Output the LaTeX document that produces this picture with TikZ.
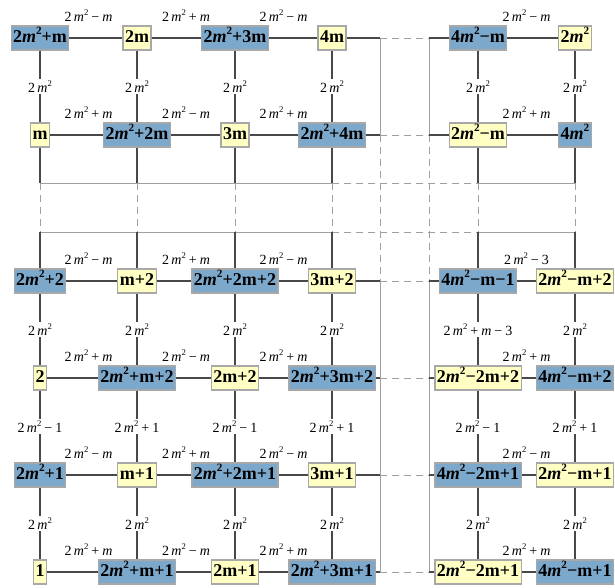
\documentclass[tikz,border=0pt]{standalone}
\usepackage{fontspec}
\usepackage{graphicx}
\setmainfont{Liberation Serif}
\usetikzlibrary{calc}
% italic m and a raised small 2
\newcommand\Mi{\textit{m}}
\newcommand\Sq{\raisebox{0.42em}{\scalebox{0.62}{2}}}
% weight label: 2 m^2 <op> <term>
\newcommand\Lb[2]{2\,\Mi\Sq\kern3pt#1\kern3pt#2}
\newcommand\Lsq{2\,\Mi\Sq}
\definecolor{nodeblue}{RGB}{124,168,204}
\definecolor{nodeyellow}{RGB}{255,255,196}
\definecolor{boxgray}{RGB}{168,168,168}
\definecolor{linkgray}{RGB}{72,72,72}
\definecolor{framegray}{RGB}{160,160,160}
\tikzset{
  cell/.style={draw=boxgray, line width=1.1pt, font=\fontsize{18}{18}\selectfont\bfseries,
    inner xsep=2pt, inner ysep=3pt, text height=13pt, text depth=4pt, minimum height=24pt},
  bcell/.style={cell, fill=nodeblue},
  ycell/.style={cell, fill=nodeyellow},
  link/.style={draw=linkgray, line width=1.1pt},
  frameline/.style={draw=framegray, line width=0.9pt},
  gapline/.style={draw=framegray, line width=0.9pt, dash pattern=on 7pt off 5pt},
  lab/.style={font=\fontsize{14}{14}\selectfont, inner sep=1pt},
  vlab/.style={lab, fill=white, inner sep=2pt}
}
\begin{document}
\begin{tikzpicture}[x=1pt,y=-1pt]
\useasboundingbox (0,0) rectangle (615,588);

% ---- cells ----
\node[bcell] (a1) at (40,38)  {2\Mi\Sq+m};
\node[ycell] (a2) at (137,38) {2m};
\node[bcell] (a3) at (235,38) {2\Mi\Sq+3m};
\node[ycell] (a4) at (332,38) {4m};
\node[bcell] (a5) at (478,38) {4\Mi\Sq−m};
\node[ycell] (a6) at (575,38) {2\Mi\Sq};

\node[ycell] (b1) at (40,135)  {m};
\node[bcell] (b2) at (137,135) {2\Mi\Sq+2m};
\node[ycell] (b3) at (235,135) {3m};
\node[bcell] (b4) at (332,135) {2\Mi\Sq+4m};
\node[ycell] (b5) at (478,135) {2\Mi\Sq−m};
\node[bcell] (b6) at (575,135) {4\Mi\Sq};

\node[bcell] (c1) at (40,281)  {2\Mi\Sq+2};
\node[ycell] (c2) at (137,281) {m+2};
\node[bcell] (c3) at (235,281) {2\Mi\Sq+2m+2};
\node[ycell] (c4) at (332,281) {3m+2};
\node[bcell] (c5) at (478,281) {4\Mi\Sq−m−1};
\node[ycell] (c6) at (575,281) {2\Mi\Sq−m+2};

\node[ycell] (d1) at (40,378)  {2};
\node[bcell] (d2) at (137,378) {2\Mi\Sq+m+2};
\node[ycell] (d3) at (235,378) {2m+2};
\node[bcell] (d4) at (332,378) {2\Mi\Sq+3m+2};
\node[ycell] (d5) at (478,378) {2\Mi\Sq−2m+2};
\node[bcell] (d6) at (575,378) {4\Mi\Sq−m+2};

\node[bcell] (e1) at (40,475)  {2\Mi\Sq+1};
\node[ycell] (e2) at (137,475) {m+1};
\node[bcell] (e3) at (235,475) {2\Mi\Sq+2m+1};
\node[ycell] (e4) at (332,475) {3m+1};
\node[bcell] (e5) at (478,475) {4\Mi\Sq−2m+1};
\node[ycell] (e6) at (575,475) {2\Mi\Sq−m+1};

\node[ycell] (f1) at (40,572)  {1};
\node[bcell] (f2) at (137,572) {2\Mi\Sq+m+1};
\node[ycell] (f3) at (235,572) {2m+1};
\node[bcell] (f4) at (332,572) {2\Mi\Sq+3m+1};
\node[ycell] (f5) at (478,572) {2\Mi\Sq−2m+1};
\node[bcell] (f6) at (575,572) {4\Mi\Sq−m+1};

% ---- gap frame coordinates ----
\foreach \r/\y in {a/38,b/135,c/281,d/378,e/475,f/572}{
  \coordinate (p\r) at (380,\y);
  \coordinate (q\r) at (429,\y);
}
\foreach \i/\x in {1/40,2/137,3/235,4/332,5/478,6/575}{
  \coordinate (r\i) at (\x,183);
  \coordinate (s\i) at (\x,232);
}

% vertical gap lines
\foreach \c in {p,q}{
  \draw[frameline] (\c a) -- (\c b);
  \draw[gapline]   (\c b) -- (\c c);
  \draw[frameline] (\c c) -- (\c f);
}
% horizontal gap lines
\foreach \c in {r,s}{
  \draw[frameline] (\c1) -- (\c4);
  \draw[gapline]   (\c4) -- (\c5);
  \draw[frameline] (\c5) -- (\c6);
}
% column links across the gap
\foreach \i in {1,...,6}{
  \draw[link] (b\i) -- (r\i);
  \draw[gapline] (r\i) -- (s\i);
  \draw[link] (s\i) -- (c\i);
}
% row links
\foreach \r in {a,...,f}{
  \draw[link] (\r1) -- (\r2);
  \draw[link] (\r2) -- (\r3);
  \draw[link] (\r3) -- (\r4);
  \draw[link] (\r4) -- (p\r);
  \draw[gapline] (p\r) -- (q\r);
  \draw[link] (q\r) -- (\r5);
  \draw[link] (\r5) -- (\r6);
}
% column links
\foreach \r/\s in {a/b,c/d,d/e,e/f}{
  \foreach \i in {1,...,6}{
    \draw[link] (\r\i) -- (\s\i);
  }
}

% ---- horizontal weights ----
\foreach \r/\la/\lb/\lc/\ld in {
  a/{\Lb{−}{\Mi}}/{\Lb{+}{\Mi}}/{\Lb{−}{\Mi}}/{\Lb{−}{\Mi}},
  b/{\Lb{+}{\Mi}}/{\Lb{−}{\Mi}}/{\Lb{+}{\Mi}}/{\Lb{+}{\Mi}},
  c/{\Lb{−}{\Mi}}/{\Lb{+}{\Mi}}/{\Lb{−}{\Mi}}/{\Lb{−}{3}},
  d/{\Lb{+}{\Mi}}/{\Lb{−}{\Mi}}/{\Lb{+}{\Mi}}/{\Lb{+}{\Mi}},
  e/{\Lb{−}{\Mi}}/{\Lb{+}{\Mi}}/{\Lb{−}{\Mi}}/{\Lb{−}{\Mi}},
  f/{\Lb{+}{\Mi}}/{\Lb{−}{\Mi}}/{\Lb{+}{\Mi}}/{\Lb{+}{\Mi}}}{
  \node[lab] (h\r1) at ($(\r1.center)!0.5!(\r2.center)+(0,-22)$) {\la};
  \node[lab] (h\r2) at ($(\r2.center)!0.5!(\r3.center)+(0,-22)$) {\lb};
  \node[lab] (h\r3) at ($(\r3.center)!0.5!(\r4.center)+(0,-22)$) {\lc};
  \node[lab] (h\r5) at ($(\r5.center)!0.5!(\r6.center)+(0,-22)$) {\ld};
}

% ---- vertical weights ----
\foreach \i in {1,...,6}{
  \node[vlab] (vab\i) at ($(a\i.center)!0.5!(b\i.center)$) {\Lsq};
  \node[vlab] (vef\i) at ($(e\i.center)!0.5!(f\i.center)$) {\Lsq};
}
\foreach \i in {1,2,3,4,6}{
  \node[vlab] (vcd\i) at ($(c\i.center)!0.5!(d\i.center)$) {\Lsq};
}
\node[vlab] (vcd5) at ($(c5.center)!0.5!(d5.center)$) {\Lb{+}{\Mi}\kern3pt−\kern3pt3};
\foreach \i/\o in {1/−,2/+,3/−,4/+,5/−,6/+}{
  \node[vlab] (vde\i) at ($(d\i.center)!0.5!(e\i.center)$) {\Lb{\o}{1}};
}
\end{tikzpicture}
\end{document}
